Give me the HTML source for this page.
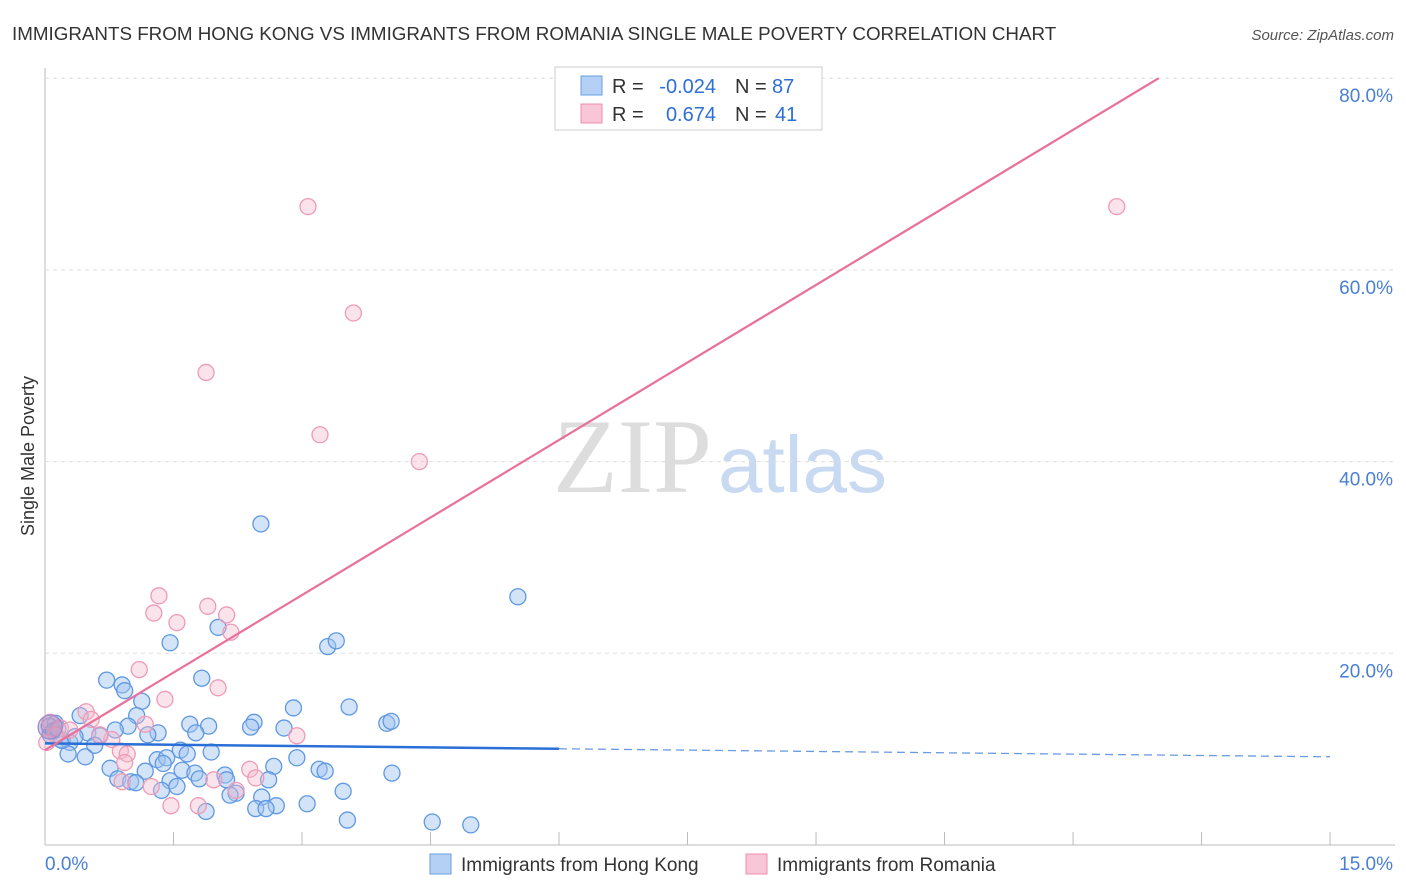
<!DOCTYPE html>
<html><head><meta charset="utf-8"><style>
body{margin:0;background:#fff;font-family:"Liberation Sans",sans-serif;}
svg{display:block}
</style></head><body>
<svg id="chart" width="1406" height="892" xmlns="http://www.w3.org/2000/svg">
<text x="12" y="40" font-size="18.8" fill="#333">IMMIGRANTS FROM HONG KONG VS IMMIGRANTS FROM ROMANIA SINGLE MALE POVERTY CORRELATION CHART</text>
<text x="1394" y="40" font-size="15" fill="#555" font-style="italic" text-anchor="end">Source: ZipAtlas.com</text>
<text x="34" y="456" font-size="18" fill="#333" text-anchor="middle" transform="rotate(-90 34 456)">Single Male Poverty</text>
<text x="553" y="492" font-size="106" fill="#ddd" font-family="Liberation Serif">ZIP</text>
<text x="718" y="492" font-size="80" fill="#c8daf2">atlas</text>
<g id="grid"></g><g id="pts"></g><g id="lines"></g>
<g>
<rect x="555" y="67" width="267" height="63" fill="#fff" stroke="#ccc"/>
<rect x="581" y="76" width="21" height="19" fill="#b4d0f4" stroke="#6a9fe0"/>
<rect x="581" y="104" width="21" height="19" fill="#f8c6d6" stroke="#ec8fae"/>
<text x="612" y="93" font-size="20" fill="#333">R =</text>
<text x="716" y="93" font-size="20" fill="#2d6fd3" text-anchor="end">-0.024</text>
<text x="735" y="93" font-size="20" fill="#333">N =</text>
<text x="772" y="93" font-size="20" fill="#2d6fd3">87</text>
<text x="612" y="121" font-size="20" fill="#333">R =</text>
<text x="716" y="121" font-size="20" fill="#2d6fd3" text-anchor="end">0.674</text>
<text x="735" y="121" font-size="20" fill="#333">N =</text>
<text x="775" y="121" font-size="20" fill="#2d6fd3">41</text>
</g>
<g>
<rect x="430" y="854" width="21" height="20" fill="#b4d0f4" stroke="#6a9fe0"/>
<text x="461" y="871" font-size="19" fill="#333">Immigrants from Hong Kong</text>
<rect x="746" y="854" width="21" height="20" fill="#f8c6d6" stroke="#ec8fae"/>
<text x="777" y="871" font-size="19" fill="#333">Immigrants from Romania</text>
</g>
</svg>
<script>
const yTicks=[20,40,60,80];
const xTickLabels=["0.0%","15.0%"];
const blueX=[2.52,5.52,1.46,2.02,3.30,3.40,0.72,0.90,0.93,1.83,1.13,2.90,3.55,0.41,1.07,1.69,1.91,2.44,2.40,2.79,3.99,4.04,0.97,0.82,1.32,1.76,1.20,0.50,0.64,0.12,0.06,0.18,0.29,0.58,1.58,1.66,1.94,0.27,0.47,1.31,1.42,2.94,2.67,1.38,0.76,1.17,1.60,1.75,3.20,3.27,4.05,2.10,0.85,1.00,1.06,1.46,1.80,2.12,2.61,1.54,1.36,3.48,2.23,2.16,2.53,3.06,2.70,2.46,2.58,1.88,3.53,4.52,4.97,0.05,0.10,0.20,0.35,0.15];
const blueY=[33.5,25.9,21.1,22.7,20.7,21.3,17.2,16.7,16.1,17.4,15.0,14.3,14.4,13.5,13.5,12.6,12.4,12.8,12.3,12.2,12.7,12.9,12.4,12.0,11.7,11.7,11.5,11.7,11.4,12.7,11.5,11.0,10.7,10.4,9.9,9.5,9.7,9.5,9.2,8.9,9.1,9.1,8.2,8.5,8.0,7.7,7.8,7.5,7.9,7.7,7.5,7.3,6.9,6.6,6.5,6.7,6.9,6.8,6.8,6.1,5.7,5.6,5.4,5.2,5.0,4.3,4.1,3.8,3.8,3.5,2.6,2.4,2.1,12.4,11.9,10.9,11.3,12.1];
const pinkX=[3.07,12.51,3.60,1.88,3.21,4.37,1.33,1.27,1.90,2.12,1.54,2.17,1.10,2.02,1.40,0.48,0.54,1.17,2.94,0.78,0.88,0.96,0.93,2.39,2.46,1.97,0.90,1.24,2.23,1.47,1.79,0.06,0.18,0.12,0.29,0.64,0.02];
const pinkY=[66.6,66.6,55.5,49.3,42.8,40.0,26.0,24.2,24.9,24.0,23.2,22.2,18.3,16.4,15.2,13.9,13.1,12.6,11.4,11.0,9.8,9.5,8.6,7.9,7.0,6.8,6.6,6.1,5.7,4.1,4.1,12.8,12.2,11.5,12.0,11.5,10.7];
const blueTrend=[10.6,9.2];
const pinkTrend=[9.9,80];
const NS="http://www.w3.org/2000/svg";
const sx=v=>45+v*85.67, sy=v=>845-v*9.585;
function mk(t,a,p){const e=document.createElementNS(NS,t);for(const k in a)e.setAttribute(k,a[k]);p.appendChild(e);return e;}
const g=document.getElementById('grid');
const ax=mk('line',{x1:45,y1:68,x2:45,y2:845,stroke:'#bbb'},g);


const bx=mk('line',{x1:45,y1:845,x2:1395,y2:845,stroke:'#bbb'},g);


for(let i=1;i<=10;i++){const t=mk('line',{x1:sx(i*1.5),y1:832,x2:sx(i*1.5),y2:845,stroke:'#bbb'},g);

}
yTicks.forEach(v=>{const l=mk('line',{x1:45,y1:sy(v),x2:1395,y2:sy(v),stroke:'#ddd','stroke-dasharray':'4,4'},g);


const t=mk('text',{x:1393,y:sy(v)+24,'font-size':19,fill:'#4a7fd4','text-anchor':'end'},g);t.textContent=v.toFixed(1)+'%';

});
const x0=mk('text',{x:45,y:870,'font-size':19,fill:'#4a7fd4'},g);x0.textContent=xTickLabels[0];


const x1=mk('text',{x:1393,y:870,'font-size':19,fill:'#4a7fd4','text-anchor':'end'},g);x1.textContent=xTickLabels[1];


const P=document.getElementById('pts');
blueX.forEach((x,i)=>{const c=mk('circle',{cx:sx(x),cy:sy(blueY[i]),r:8,fill:'rgba(160,196,240,0.45)',stroke:'#5e98e2','stroke-width':1.3},P);

});
pinkX.forEach((x,i)=>{const c=mk('circle',{cx:sx(x),cy:sy(pinkY[i]),r:8,fill:'rgba(246,184,204,0.4)',stroke:'#ee9bb7','stroke-width':1.3},P);

});
const big=mk('circle',{cx:sx(0.06),cy:sy(12.3),r:12,fill:'rgba(180,140,190,0.45)',stroke:'#9a8ccc','stroke-width':1.3},P);


const L=document.getElementById('lines');
const by=x=>blueTrend[0]+(blueTrend[1]-blueTrend[0])*x/15;
const b1=mk('line',{x1:sx(0),y1:sy(by(0)),x2:sx(6),y2:sy(by(6)),stroke:'#2a6fd6','stroke-width':2.5},L);


const b2=mk('line',{x1:sx(6),y1:sy(by(6)),x2:sx(15),y2:sy(by(15)),stroke:'#6b9be0','stroke-width':1.3,'stroke-dasharray':'8,5'},L);


const pk=mk('line',{x1:sx(0),y1:sy(pinkTrend[0]),x2:sx(13.0),y2:sy(pinkTrend[1]),stroke:'#e8709a','stroke-width':2.2},L);


</script>
</body></html>
